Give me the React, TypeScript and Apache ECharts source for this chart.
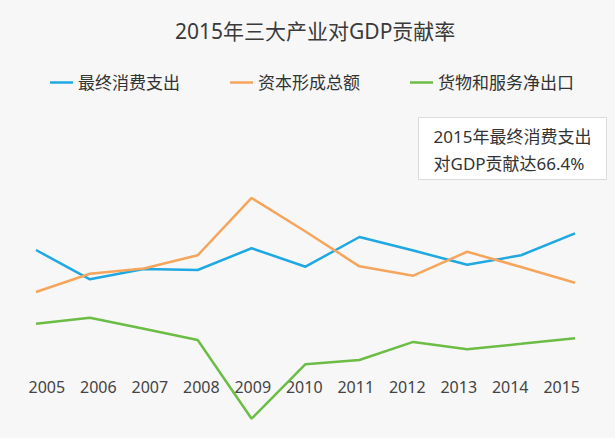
import React, { useEffect, useRef } from "react";
import * as echarts from "echarts";

const years = ["2005", "2006", "2007", "2008", "2009", "2010", "2011", "2012", "2013", "2014", "2015"];
const seriesNames = ["最终消费支出", "资本形成总额", "货物和服务净出口"];
const consumption = [56.9, 40.2, 46.1, 45.5, 57.9, 47.4, 64.3, 56.6, 48.5, 53.9, 66.4];
const capital = [33.0, 43.4, 46.4, 53.9, 86.5, 67.4, 47.6, 42.3, 55.9, 47.2, 38.3];
const netExport = [15.0, 18.4, 12.1, 5.7, -39.1, -8.1, -5.7, 4.6, 0.4, 3.5, 6.7];
const titleText = "2015年三大产业对GDP贡献率";
const noteText = "2015年最终消费支出\n对GDP贡献达66.4%";

const colors = ["#1fa8e2", "#f6a55c", "#6cbd45"];
const FONT = '"Noto Sans", "Noto Sans CJK SC", sans-serif';

export default function App() {
  const ref = useRef<HTMLDivElement>(null);
  useEffect(() => {
    if (!ref.current) return;
    const chart = echarts.init(ref.current, null, { renderer: "svg" });
    const values = [consumption, capital, netExport];
    chart.setOption({
      animation: false,
      backgroundColor: "#f7f7f7",
      textStyle: { fontFamily: FONT },
      title: {
        text: titleText,
        left: 175,
        top: 20,
        padding: 0,
        textStyle: { fontSize: 21, fontWeight: "normal", color: "#3a3a3a", fontFamily: FONT },
      },
      legend: {
        left: 50,
        top: 74,
        padding: 0,
        itemGap: 50,
        itemWidth: 23,
        itemHeight: 2.5,
        icon: "rect",
        textStyle: { fontSize: 17, color: "#333", fontFamily: FONT },
        data: seriesNames,
      },
      grid: [
        { left: 36, right: 40, top: 174.25, bottom: 17.7 },
        { left: 46.8, right: 53.3, top: 370, height: 1 },
      ],
      xAxis: [
        { type: "category", gridIndex: 0, data: years, boundaryGap: false, show: false },
        {
          type: "category",
          gridIndex: 1,
          data: years,
          boundaryGap: false,
          axisLine: { show: false },
          axisTick: { show: false },
          splitLine: { show: false },
          axisLabel: { margin: 8, fontSize: 16, color: "#444", fontFamily: FONT, interval: 0 },
        },
      ],
      yAxis: [
        { type: "value", gridIndex: 0, min: -40, max: 100, show: false },
        { type: "value", gridIndex: 1, show: false },
      ],
      series: seriesNames.map((name, i) => ({
        name,
        type: "line",
        xAxisIndex: 0,
        yAxisIndex: 0,
        data: values[i],
        symbol: "none",
        lineStyle: { width: 2.5, color: colors[i] },
        itemStyle: { color: colors[i] },
      })),
      graphic: [
        {
          type: "group",
          left: 418,
          top: 117,
          children: [
            {
              type: "rect",
              shape: { x: 0, y: 0, width: 188, height: 62 },
              style: { fill: "#ffffff", stroke: "#dcdcdc", lineWidth: 1 },
            },
            {
              type: "text",
              x: 15,
              y: 5,
              style: {
                text: noteText,
                fontSize: 17,
                lineHeight: 27,
                fill: "#333",
                fontFamily: FONT,
                verticalAlign: "top",
              },
            },
          ],
        },
      ],
    });
    return () => chart.dispose();
  }, []);
  return (
    <div
      ref={ref}
      style={{ position: "fixed", left: 0, top: 0, width: 615, height: 438 }}
    />
  );
}
